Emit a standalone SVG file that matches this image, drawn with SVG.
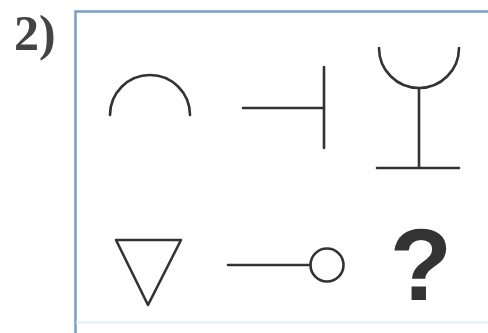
<svg xmlns="http://www.w3.org/2000/svg" width="488" height="333" viewBox="0 0 488 333">
<style>
.frame{fill:none;stroke:#7b9ec4;stroke-width:2.5}
.sym{fill:none;stroke:#333;stroke-width:2.6;stroke-linecap:round;stroke-linejoin:round}
.lbl{font-family:"Liberation Serif",serif;font-weight:bold;font-size:50px;fill:#444}
.q{font-family:"Liberation Sans",Arial,sans-serif;font-weight:bold;font-size:102px;fill:#333}
</style>
<rect width="488" height="333" fill="#fff"/>
<g id="label"><text class="lbl" x="14" y="50">2)</text></g>
<g id="frame">
<path class="frame" d="M75.5,333 V11.5 H488"/>
<path d="M76,322.5 H488" fill="none" stroke="#e2f0f8" stroke-width="2"/>
</g>
<g id="arc"><path class="sym" d="M110,115 A40,40 0 0 1 190,115"/></g>
<g id="tee"><path class="sym" d="M243,108 H324 M324,67 V148"/></g>
<g id="cup"><path class="sym" d="M379,48 A40,40 0 0 0 459,48 M419,88 V168 M377,168 H459"/></g>
<g id="triangle"><path class="sym" d="M116,240 H181 L148,305 Z"/></g>
<g id="lollipop"><path class="sym" d="M228,265 H310"/><circle class="sym" cx="327" cy="265" r="16.5"/></g>
<g id="question"><text class="q" x="421" y="300" text-anchor="middle">?</text></g>
</svg>
